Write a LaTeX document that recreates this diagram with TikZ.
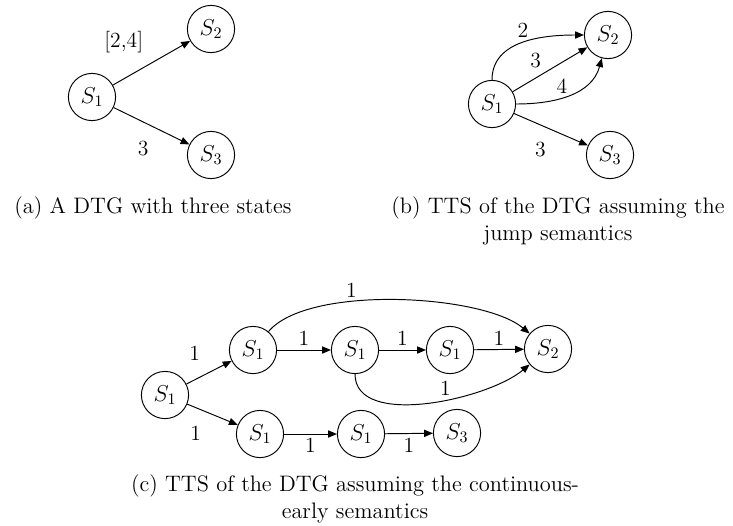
\documentclass[tikz,border=0pt]{standalone}
\usepackage{amsmath, amssymb}
\usetikzlibrary{arrows.meta, positioning}
\definecolor{ink}{HTML}{000000}
\newcommand{\sname}[1]{$S_{#1}$}
\tikzset{
    state/.style={draw=ink, circle, line width=0.6pt, minimum size=29.5pt, inner sep=0pt, font=\fontsize{14}{16}\selectfont},
    trans/.style={draw=ink, line width=0.6pt, -{Triangle[length=5.5pt, width=4.5pt]}},
    wt/.style={font=\fontsize{13.5}{16}\selectfont, inner sep=2.5pt},
    capt/.style={align=center, font=\fontsize{14}{16.8}\selectfont}
}

\begin{document}
\begin{tikzpicture}[x=0.625pt, y=-0.625pt]
        \useasboundingbox (0,0) rectangle (733,525);

        % (a) the DTG
        \node[state] (a1) at (92,97) {\sname{1}};
        \node[state] (a2) at (211,29) {\sname{2}};
        \node[state] (a3) at (211,155) {\sname{3}};
        \draw[trans] (a1) -- node[wt, pos=0.45, above left=5pt and 0pt] (wa12) {[2,4]} (a2);
        \draw[trans] (a1) -- node[wt, pos=0.54, below left=6pt and 1pt] (wa13) {3} (a3);
        \node[capt] (capa) at (153,208) {(a) A DTG with three states};

        % (b) jump semantics
        \node[state] (b1) at (492,104) {\sname{1}};
        \node[state] (b2) at (608,35) {\sname{2}};
        \node[state] (b3) at (610,155) {\sname{3}};
        \draw[trans] (b1) to[out=90, in=180] node[wt, pos=0.5, above] (wb2) {2} (b2);
        \draw[trans] (b1) -- node[wt, pos=0.44, above left] (wb3) {3} (b2);
        \draw[trans] (b1) to[out=0, in=-105] node[wt, pos=0.42, above] (wb4) {4} (b2);
        \draw[trans] (b1) -- node[wt, pos=0.49, below left=5.5pt and 0pt] (wb13) {3} (b3);
        \node[capt] (capb) at (558,221) {(b) TTS of the DTG assuming the\\jump semantics};

        % (c) continuous-early semantics
        \node[state] (c0) at (165,395) {\sname{1}};
        \node[state] (c1) at (253,350) {\sname{1}};
        \node[state] (c2) at (355,350) {\sname{1}};
        \node[state] (c3) at (450,350) {\sname{1}};
        \node[state] (c4) at (548,349) {\sname{2}};
        \node[state] (d1) at (260,434) {\sname{1}};
        \node[state] (d2) at (361,434) {\sname{1}};
        \node[state] (d3) at (457,433) {\sname{3}};

        \draw[trans] (c0) -- node[wt, pos=0.5, above left=4.75pt and 2.8pt] (w01) {1} (c1);
        \draw[trans] (c0) -- node[wt, pos=0.36, below left=6pt and 0pt] (w0d) {1} (d1);
        \draw[trans] (c1) -- node[wt, above] (w12) {1} (c2);
        \draw[trans] (c2) -- node[wt, above] (w23) {1} (c3);
        \draw[trans] (c3) -- node[wt, above] (w34) {1} (c4);
        \draw[trans] (d1) -- node[wt, below] (wd12) {1} (d2);
        \draw[trans] (d2) -- node[wt, below] (wd23) {1} (d3);
        \draw[trans] (c1) to[out=50, in=140, looseness=0.6] node[wt, pos=0.36, above] (w14) {1} (c4);
        \draw[trans] (c2) to[out=-90, in=-140, looseness=0.8] node[wt, pos=0.58, above] (w24) {1} (c4);
        \node[capt] (capc) at (355,499) {(c) TTS of the DTG assuming the continuous-\\early semantics};

\end{tikzpicture}
\end{document}
